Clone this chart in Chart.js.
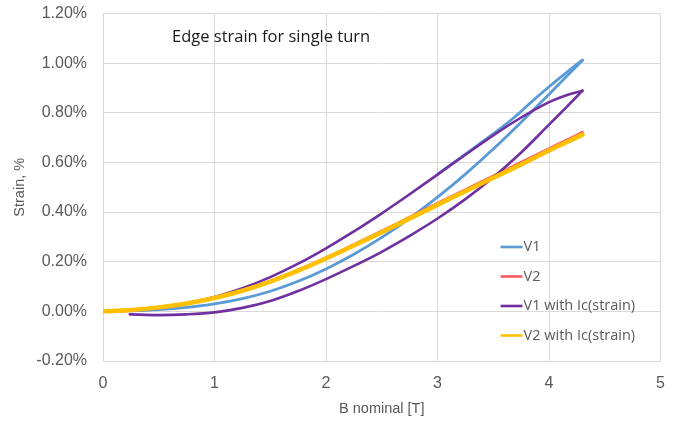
<!DOCTYPE html>
<html>
<head>
<meta charset="utf-8">
<title>Edge strain for single turn</title>
<script src="https://cdn.jsdelivr.net/npm/chart.js@4.4.1/dist/chart.umd.min.js"></script>
<style>
  html, body { margin: 0; padding: 0; background: #fff; }
  #wrap { width: 678px; height: 421px; position: relative; }
</style>
</head>
<body>
<div id="wrap"><canvas id="strainChart"></canvas></div>
<script>
// Edge strain vs nominal field, ramp up and ramp down branches

// V1 - ramp up
const v1UpB = [0, 0.25, 0.5, 0.75, 1, 1.25, 1.5, 1.75, 2, 2.25, 2.5, 2.75, 3, 3.25, 3.5, 3.75, 4, 4.15, 4.3];
const v1Up = [0, 0.002, 0.007, 0.016, 0.030, 0.051, 0.081, 0.121, 0.171, 0.230, 0.298, 0.375, 0.460, 0.553, 0.654, 0.762, 0.875, 0.943, 1.011];
// V1 - ramp down
const v1DownB = [4.3, 4.15, 4.0, 3.85, 3.7, 3.55, 3.4, 3.2, 3.0];
const v1Down = [1.013, 0.960, 0.905, 0.847, 0.786, 0.732, 0.683, 0.617, 0.553];

// V2
const v2B = [0, 0.25, 0.5, 0.75, 1, 1.25, 1.5, 1.75, 2, 2.25, 2.5, 2.75, 3, 3.25, 3.5, 3.75, 4, 4.15, 4.3];
const v2 = [0, 0.005, 0.017, 0.033, 0.056, 0.085, 0.122, 0.167, 0.216, 0.269, 0.323, 0.379, 0.435, 0.490, 0.545, 0.600, 0.655, 0.688, 0.721];

// V1 with Ic(strain) - ramp up
const v1IcUpB = [0.24, 0.5, 0.75, 1.0, 1.25, 1.5, 1.75, 2.0, 2.25, 2.5, 2.75, 3.0, 3.25, 3.5, 3.75, 4.0, 4.15, 4.3];
const v1IcUp = [-0.012, -0.015, -0.012, -0.004, 0.014, 0.042, 0.082, 0.130, 0.183, 0.240, 0.304, 0.374, 0.452, 0.540, 0.640, 0.752, 0.820, 0.889];
// V1 with Ic(strain) - ramp down
const v1IcDownB = [4.3, 4.15, 4.0, 3.75, 3.5, 3.25, 3.0, 2.75, 2.5, 2.25, 2.0, 1.75, 1.5, 1.25, 1.0, 0.75, 0.5, 0.25, 0];
const v1IcDown = [0.889, 0.870, 0.843, 0.781, 0.709, 0.631, 0.551, 0.472, 0.395, 0.322, 0.254, 0.192, 0.138, 0.093, 0.058, 0.032, 0.015, 0.005, 0];

// V2 with Ic(strain)
const v2IcB = [0, 0.25, 0.5, 0.75, 1, 1.25, 1.5, 1.75, 2, 2.25, 2.5, 2.75, 3, 3.25, 3.5, 3.75, 4, 4.15, 4.3];
const v2Ic = [0, 0.005, 0.016, 0.032, 0.054, 0.083, 0.120, 0.164, 0.213, 0.265, 0.319, 0.374, 0.429, 0.484, 0.538, 0.592, 0.648, 0.680, 0.712];

const yTicks = [-0.2, 0, 0.2, 0.4, 0.6, 0.8, 1.0, 1.2];
const xTicks = [0, 1, 2, 3, 4, 5];

const seriesNames = ['V1', 'V2', 'V1 with Ic(strain)', 'V2 with Ic(strain)'];
const seriesColors = ['#5b9bd5', '#ff5a5f', '#7030a0', '#ffc000'];

const textGrey = '#595959';
const gridGrey = '#d9d9d9';

function pts(xs, ys) {
  return xs.map((x, i) => ({ x: x, y: ys[i] }));
}

function line(name, series, xs, ys, width, order) {
  return {
    label: name,
    data: pts(xs, ys),
    borderColor: seriesColors[series],
    backgroundColor: seriesColors[series],
    borderWidth: width,
    borderCapStyle: 'round',
    borderJoinStyle: 'round',
    showLine: true,
    pointRadius: 0,
    tension: 0.35,
    order: order
  };
}

// chart title sits inside the plot area
const plotTitle = {
  id: 'plotTitle',
  afterDraw(chart) {
    const { ctx, chartArea } = chart;
    ctx.save();
    ctx.font = "16.5px 'Open Sans', sans-serif";
    ctx.fillStyle = '#1a1a1a';
    ctx.textBaseline = 'middle';
    ctx.textAlign = 'left';
    ctx.fillText('Edge strain for single turn', chartArea.left + 69, chartArea.top + 23.5);
    ctx.restore();
  }
};

// legend drawn in the lower right corner of the plot
const innerLegend = {
  id: 'innerLegend',
  afterDraw(chart) {
    const { ctx, chartArea } = chart;
    const x0 = chartArea.right - 160;
    const y0 = chartArea.bottom - 114;
    ctx.save();
    ctx.font = "14.5px 'Open Sans', sans-serif";
    ctx.textBaseline = 'middle';
    ctx.textAlign = 'left';
    seriesNames.forEach((name, i) => {
      const y = y0 + i * 29.5;
      ctx.strokeStyle = seriesColors[i];
      ctx.lineWidth = 2.6;
      ctx.beginPath();
      ctx.moveTo(x0, y);
      ctx.lineTo(x0 + 22, y);
      ctx.stroke();
      ctx.fillStyle = textGrey;
      ctx.fillText(name, x0 + 23, y);
    });
    ctx.restore();
  }
};

const chart = new Chart(document.getElementById('strainChart'), {
  type: 'scatter',
  data: {
    datasets: [
      line(seriesNames[0], 0, v1UpB, v1Up, 2.8, 4),
      line(seriesNames[0], 0, v1DownB, v1Down, 2.8, 4),
      line(seriesNames[1], 1, v2B, v2, 3, 3),
      line(seriesNames[2], 2, v1IcUpB, v1IcUp, 2.6, 2),
      line(seriesNames[2], 2, v1IcDownB, v1IcDown, 2.6, 2),
      line(seriesNames[3], 3, v2IcB, v2Ic, 4.5, 1)
    ]
  },
  options: {
    responsive: true,
    maintainAspectRatio: false,
    animation: false,
    layout: { padding: { top: 13.5, right: 17, bottom: 0, left: 0 } },
    plugins: {
      legend: { display: false },
      tooltip: { enabled: false }
    },
    scales: {
      x: {
        type: 'linear',
        min: 0,
        max: 5,
        afterBuildTicks: axis => { axis.ticks = xTicks.map(v => ({ value: v })); },
        afterFit: axis => { axis.height = 60; },
        grid: { color: gridGrey, drawTicks: false },
        border: { color: gridGrey },
        ticks: {
          color: textGrey,
          font: { size: 16 },
          padding: 13,
          maxRotation: 0
        },
        title: {
          display: true,
          text: 'B nominal [T]',
          color: textGrey,
          font: { size: 14.5 },
          padding: { top: 0, bottom: 3 }
        }
      },
      y: {
        type: 'linear',
        min: -0.2,
        max: 1.2,
        afterBuildTicks: axis => { axis.ticks = yTicks.map(v => ({ value: v })); },
        afterFit: axis => {
          axis.width = 103;
          // top label may overhang the plot edge
          axis.paddingTop = 0;
          axis.paddingBottom = 0;
        },
        grid: { color: gridGrey, drawTicks: false },
        border: { color: gridGrey },
        ticks: {
          color: textGrey,
          font: { size: 16 },
          padding: 16,
          callback: v => v.toFixed(2) + '%'
        },
        title: {
          display: true,
          text: 'Strain, %',
          color: textGrey,
          font: { size: 14.5 },
          padding: { top: 11, bottom: 0 }
        }
      }
    }
  },
  plugins: [plotTitle, innerLegend]
});
</script>
</body>
</html>
